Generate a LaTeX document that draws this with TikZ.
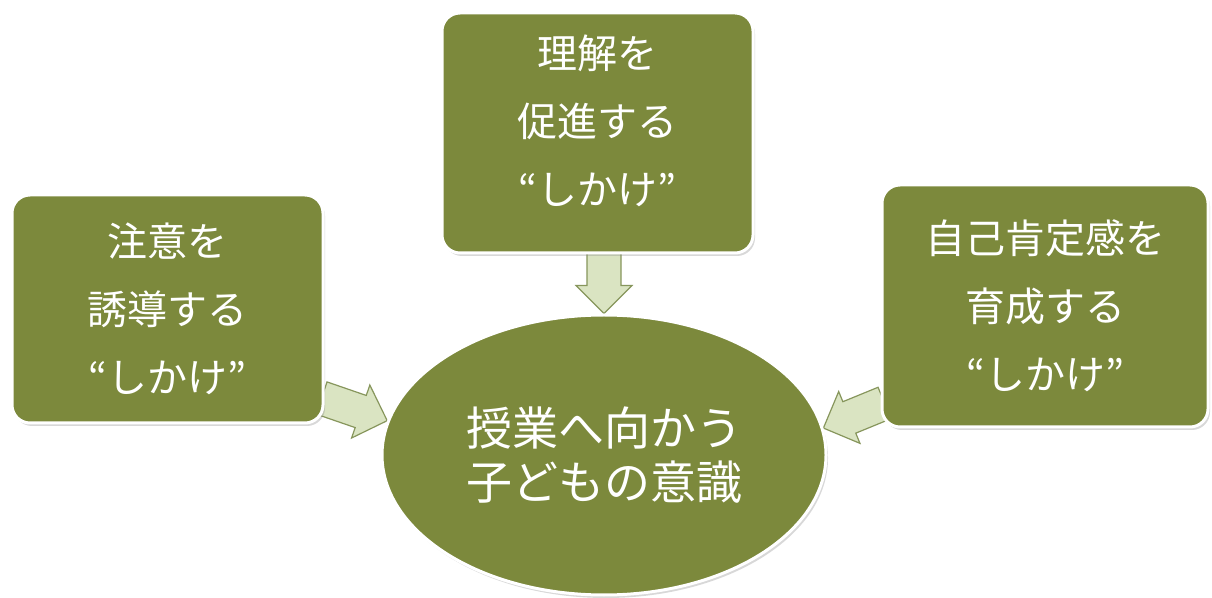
\documentclass[tikz,border=0pt]{standalone}
\usepackage{fontspec}
\setmainfont{Noto Sans CJK JP}
\usetikzlibrary{calc,shadows,shapes.geometric,backgrounds}
\definecolor{olivefill}{RGB}{124,137,60}
\definecolor{arrowfill}{RGB}{218,228,194}
\definecolor{arrowline}{RGB}{135,150,92}
\tikzset{
  greenbox/.style={rectangle, rounded corners=18pt, fill=olivefill, draw=white, line width=3pt,
    text=white, align=center, font=\fontsize{40pt}{68pt}\selectfont, inner sep=0pt,
    drop shadow={shadow xshift=2pt, shadow yshift=-3pt, opacity=0.3}},
  centreoval/.style={ellipse, fill=olivefill, draw=white, line width=3pt, text=white, align=center,
    font=\fontsize{46pt}{54pt}\selectfont, inner sep=0pt, minimum width=444pt, minimum height=280pt,
    drop shadow={shadow xshift=2pt, shadow yshift=-3pt, opacity=0.3}},
  blockarrow/.style={fill=arrowfill, draw=arrowline, line width=1.2pt, line join=miter}
}
% #1 start coordinate, #2 tip coordinate
\newcommand\blockarr[2]{%
  \path[blockarrow]
    ($(#1)!17pt!90:(#2)$)
    -- ($($(#2)!28pt!(#1)$)!17pt!-90:(#1)$)
    -- ($($(#2)!28pt!(#1)$)!28pt!-90:(#1)$)
    -- (#2)
    -- ($($(#2)!28pt!(#1)$)!28pt!90:(#1)$)
    -- ($($(#2)!28pt!(#1)$)!17pt!90:(#1)$)
    -- ($(#1)!17pt!-90:(#2)$)
    -- cycle;
}
\begin{document}
\begin{tikzpicture}[x=1pt,y=1pt]
  \useasboundingbox (0,0) rectangle (1212,597);

  \node[greenbox, minimum width=311pt, minimum height=228pt] (left) at (167.5,288)
    {注意を\\誘導する\\“しかけ”};
  \node[greenbox, minimum width=311pt, minimum height=240pt] (top) at (597.5,464)
    {\raisebox{10pt}[\height][\depth]{\begin{tabular}{@{}c@{}}理解を\\促進する\\“しかけ”\end{tabular}}};
  \node[greenbox, minimum width=326pt, minimum height=242pt] (right) at (1045,291)
    {自己肯定感を\\育成する\\“しかけ”};
  \node[centreoval] (ell) at (604,142) {授業へ向かう\\子どもの意識};

  \coordinate (topS) at ($(ell.north |- top.south)+(0,5pt)$);
  \coordinate (topT) at (ell.north);
  \coordinate (leftS) at ($(left.east)+(-3pt,-89pt)$);
  \coordinate (leftT) at (ell.171);
  \coordinate (rightS) at ($(right.west)+(4pt,-97pt)$);
  \coordinate (rightT) at (ell.7);

  \begin{scope}[on background layer]
    \fill[white] (0,0) rectangle (1212,597);
    \blockarr{topS}{topT}
    \blockarr{leftS}{leftT}
    \blockarr{rightS}{rightT}
  \end{scope}
\end{tikzpicture}
\end{document}
